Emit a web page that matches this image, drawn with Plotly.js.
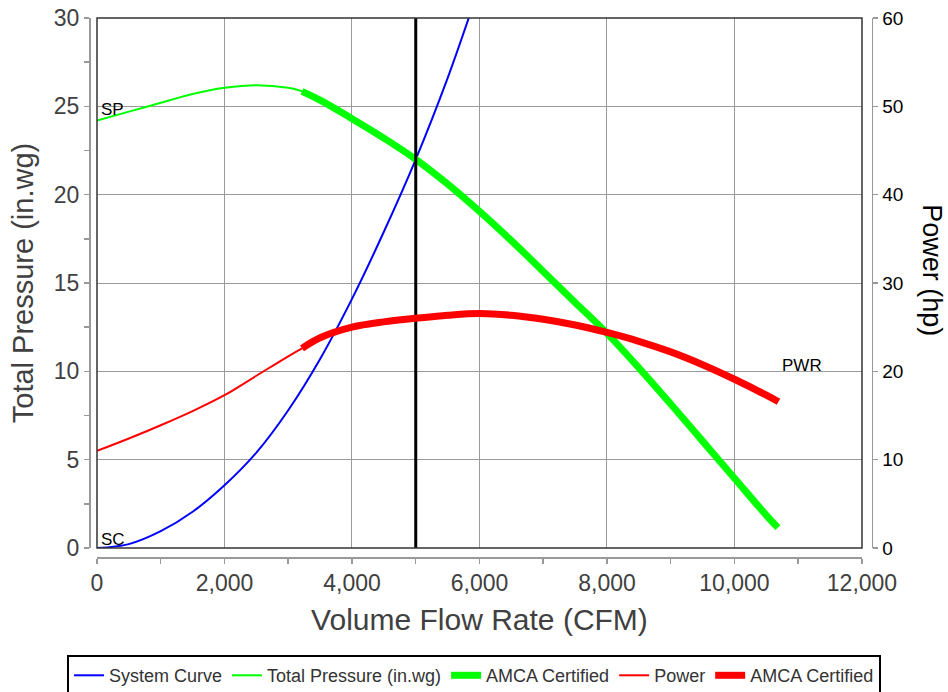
<!DOCTYPE html>
<html>
<head>
<meta charset="utf-8">
<script src="https://cdn.plot.ly/plotly-3.0.1.min.js"></script>
<style>html,body{margin:0;padding:0;background:#fff;}#chart{width:948px;height:692px;}</style>
</head>
<body>
<div id="chart"></div>
<script>
// System curve (in.wg)
const scFlow = [0, 500, 1000, 1500, 2000, 2500, 3000, 3500, 4000, 4500, 5000, 5500, 5850];
const scPressure = [0, 0.22, 0.95, 2.05, 3.55, 5.4, 7.8, 10.7, 14.1, 17.9, 22.0, 26.6, 30.2];

// Total pressure (in.wg) — thin portion and AMCA certified portion
const tpFlow = [0, 500, 1000, 1500, 2000, 2500, 3000, 3216];
const tpPressure = [24.2, 24.7, 25.2, 25.7, 26.05, 26.2, 26.05, 25.85];
const tpCertFlow = [3216, 3500, 4000, 4500, 5000, 5500, 6000, 6500, 7000, 7500, 8000, 8500, 9000, 9500, 10000, 10500, 10680];
const tpCertPressure = [25.85, 25.35, 24.3, 23.2, 22.0, 20.6, 19.05, 17.4, 15.65, 13.9, 12.15, 10.2, 8.15, 6.05, 3.95, 1.85, 1.15];

// Power (hp) — thin portion and AMCA certified portion
const pwrFlow = [0, 500, 1000, 1500, 2000, 2500, 3000, 3216];
const pwrHp = [11.0, 12.4, 13.9, 15.5, 17.3, 19.5, 21.7, 22.6];
const pwrCertFlow = [3216, 3500, 4000, 4500, 5000, 5500, 6000, 6500, 7000, 7500, 8000, 8500, 9000, 9500, 10000, 10500, 10690];
const pwrCertHp = [22.6, 23.8, 25.0, 25.6, 26.0, 26.35, 26.55, 26.35, 25.9, 25.25, 24.4, 23.4, 22.2, 20.75, 19.1, 17.3, 16.55];

// Operating point line
const opFlow = [5000, 5000];
const opPressure = [0, 30];

// Axis ticks
const xTicks = [0, 2000, 4000, 6000, 8000, 10000, 12000];
const yTicks = [0, 5, 10, 15, 20, 25, 30];
const y2Ticks = [0, 10, 20, 30, 40, 50, 60];

const labelFont = {family: 'Liberation Sans, Arial, sans-serif', size: 17, color: '#000'};

const traces = [
  {x: scFlow, y: scPressure, type: 'scatter', mode: 'lines', name: 'System Curve',
   line: {color: '#0000ff', width: 2, shape: 'spline'}},
  {x: tpFlow, y: tpPressure, type: 'scatter', mode: 'lines', name: 'Total Pressure (in.wg)',
   line: {color: '#00ff00', width: 2, shape: 'spline'}},
  {x: tpCertFlow, y: tpCertPressure, type: 'scatter', mode: 'lines', name: 'AMCA Certified',
   line: {color: '#00ff00', width: 7, shape: 'spline'}},
  {x: pwrFlow, y: pwrHp, type: 'scatter', mode: 'lines', name: 'Power', yaxis: 'y2',
   line: {color: '#ff0000', width: 2, shape: 'spline'}},
  {x: pwrCertFlow, y: pwrCertHp, type: 'scatter', mode: 'lines', name: 'AMCA Certified', yaxis: 'y2',
   line: {color: '#ff0000', width: 7, shape: 'spline'}},
  {x: opFlow, y: opPressure, type: 'scatter', mode: 'lines', showlegend: false, hoverinfo: 'skip',
   line: {color: '#000000', width: 3}}
];

// paper spans x 20..928 px (908 wide), y 18..557 px (539 tall)
const layout = {
  width: 948, height: 692,
  margin: {l: 20, r: 20, t: 18, b: 135, autoexpand: false},
  paper_bgcolor: '#ffffff', plot_bgcolor: '#ffffff',
  showlegend: true,
  font: {family: 'Liberation Sans, Arial, sans-serif'},
  xaxis: {
    domain: [0.0848, 0.9273], anchor: 'free', position: 0,
    range: [0, 12000], tickvals: xTicks, tickformat: ',d',
    showline: true, linecolor: '#999999', linewidth: 1.5,
    ticks: 'outside', ticklen: 5, tickcolor: '#999999', tickwidth: 1.5,
    minor: {dtick: 1000, ticks: 'outside', ticklen: 5, tickcolor: '#999999', tickwidth: 1.5, showgrid: false},
    showgrid: true, gridcolor: '#9a9a9a', gridwidth: 1,
    zeroline: false, automargin: false,
    tickfont: {size: 23, color: '#404040'},
    title: {text: 'Volume Flow Rate (CFM)', font: {size: 30, color: '#404040'}, standoff: 14}
  },
  yaxis: {
    domain: [0.0167, 1], anchor: 'free', position: 0.076,
    range: [0, 30], tickvals: yTicks,
    showline: true, linecolor: '#999999', linewidth: 1.5,
    ticks: 'outside', ticklen: 5, tickcolor: '#999999', tickwidth: 1.5,
    minor: {dtick: 2.5, ticks: 'outside', ticklen: 5, tickcolor: '#999999', tickwidth: 1.5, showgrid: false},
    showgrid: true, gridcolor: '#9a9a9a', gridwidth: 1,
    zeroline: false, automargin: false,
    tickfont: {size: 23, color: '#404040'},
    title: {text: 'Total Pressure (in.wg)', font: {size: 29, color: '#404040'}, standoff: 10}
  },
  yaxis2: {
    overlaying: 'y', side: 'right', anchor: 'free', position: 0.9383,
    range: [0, 60], tickvals: y2Ticks,
    showline: true, linecolor: '#999999', linewidth: 1.5,
    ticks: 'outside', ticklen: 5, tickcolor: '#999999', tickwidth: 1.5,
    showgrid: false, zeroline: false, automargin: false,
    tickfont: {size: 19, color: '#000000'}
  },
  legend: {
    orientation: 'h', x: 0.5, xanchor: 'center', y: -0.182, yanchor: 'top',
    bordercolor: '#000000', borderwidth: 2,
    font: {size: 18, color: '#333333'},
    itemwidth: 30, tracegroupgap: 0
  },
  shapes: [
    {type: 'rect', xref: 'x domain', yref: 'y domain', x0: 0, x1: 1, y0: 0, y1: 1,
     line: {color: '#333333', width: 1.5}, fillcolor: 'rgba(0,0,0,0)', layer: 'above'}
  ],
  annotations: [
    {text: 'Power (hp)', xref: 'paper', yref: 'paper', x: 1.0044, y: 0.532, textangle: 90,
     showarrow: false, font: {size: 27, color: '#000000'}, xanchor: 'center', yanchor: 'middle'},
    {text: 'SP', xref: 'x', yref: 'y', x: 0, y: 24.4, xanchor: 'left', yanchor: 'bottom', xshift: 2, yshift: -4,
     showarrow: false, font: labelFont},
    {text: 'SC', xref: 'x', yref: 'y', x: 0, y: 0, xanchor: 'left', yanchor: 'bottom', xshift: 2, yshift: -3,
     showarrow: false, font: labelFont},
    {text: 'PWR', xref: 'x', yref: 'y2', x: 10714, y: 19.8, xanchor: 'left', yanchor: 'bottom', yshift: -4,
     showarrow: false, font: labelFont}
  ]
};

Plotly.newPlot('chart', traces, layout, {displayModeBar: false, staticPlot: true});
</script>
</body>
</html>
